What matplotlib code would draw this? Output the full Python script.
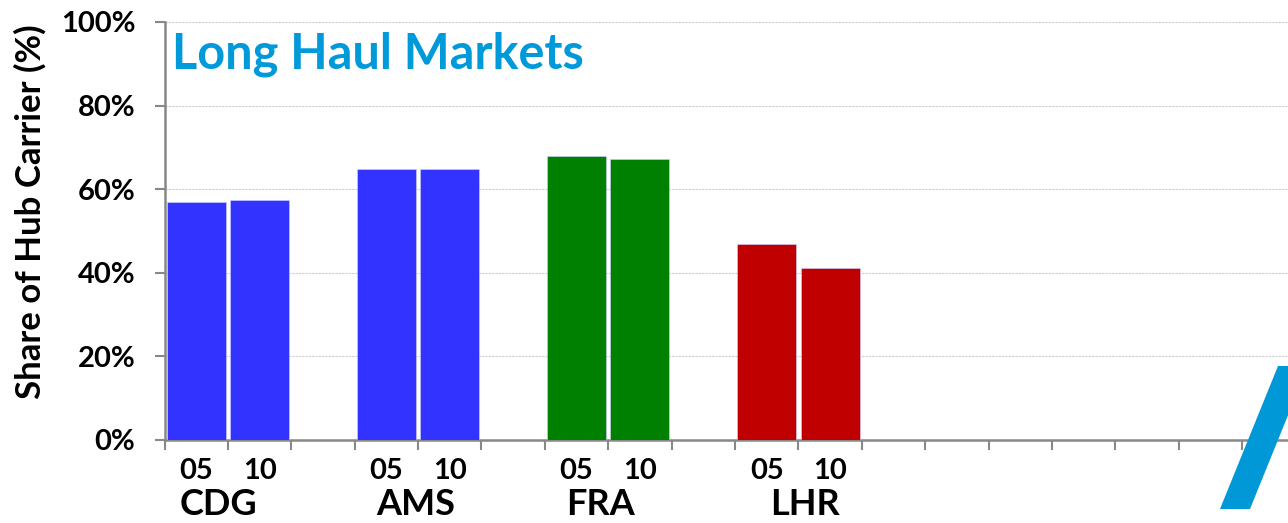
import numpy as np
import matplotlib as mlp
mlp.use("Agg")
import matplotlib.pyplot as plt
from matplotlib.patches import Polygon

# data
airports = ["CDG", "AMS", "FRA", "LHR"]
years = ["05", "10"]
share_05 = [56.9, 64.8, 67.9, 46.9]
share_10 = [57.3, 64.8, 67.2, 41.1]
colors = ["#3333FF", "#3333FF", "#008000", "#C00000"]
yticks = [0, 20, 40, 60, 80, 100]
n_slots = 18

plt.rcParams['font.family'] = ['Lato', 'DejaVu Sans']
plt.rcParams['font.weight'] = 'bold'

W, H = 1288, 523
fig = plt.figure(figsize=(W / 100, H / 100), dpi=100)
ax = fig.add_axes([164.5 / W, (H - 440) / H, 1141 / W, 418 / H])

grey = "#888888"
# the category names sit a little off the group centre in the original
name_shift = [-0.15, -0.03, -0.12, 0.1]
pos = []
labs = []
for i, name in enumerate(airports):
	x0 = 3 * i
	ax.bar(x0, share_05[i], width=0.93, color=colors[i], edgecolor="#d0d0ff", linewidth=0.4, zorder=3)
	ax.bar(x0 + 1, share_10[i], width=0.93, color=colors[i], edgecolor="#d0d0ff", linewidth=0.4, zorder=3)
	pos += [x0, x0 + 1]
	labs += years
	ax.text(x0 + 0.5 + name_shift[i], -0.155, name, transform=ax.get_xaxis_transform(),
		ha="center", va="center", fontsize=26, fontweight="bold", color="black")

ax.set_xlim(-0.5, n_slots - 0.5)
ax.set_ylim(0, 100)
ax.set_xticks(pos)
ax.set_xticklabels(labs, fontweight="bold")
ax.set_xticks(np.arange(-0.5, n_slots, 1), minor=True)
ax.tick_params(axis="x", which="major", length=0, pad=13, labelsize=21)
ax.tick_params(axis="x", which="minor", length=7, width=1.5, color=grey, direction="out")

ax.set_yticks(yticks)
ax.set_yticklabels([str(v) + "%" for v in yticks], fontweight="bold")
ax.tick_params(axis="y", length=7, width=1.5, color=grey, pad=14, labelsize=21)
ax.yaxis.grid(True, linestyle=(0, (2, 1)), color="#cccccc", linewidth=0.8, zorder=0)
ax.set_axisbelow(True)

for s in ["top", "right"]:
	ax.spines[s].set_visible(False)
for s in ["left", "bottom"]:
	ax.spines[s].set_color(grey)
	ax.spines[s].set_linewidth(1.8)

fig.text(30 / W, 1 - 212 / H, "Share of Hub Carrier (%)", rotation=90, ha="center", va="center",
	fontsize=25, fontweight="bold")
fig.text(172 / W, 1 - 54 / H, "Long Haul Markets", ha="left", va="center",
	fontsize=35, fontweight="bold", color="#0099DA")

# decorative logo slash at the lower right corner
pts = [(1220, 509), (1250, 509), (1308, 366), (1278, 366)]
fig.patches.append(Polygon([(x / W, 1 - y / H) for x, y in pts], closed=True,
	transform=fig.transFigure, facecolor="#0098D6", edgecolor="none", figure=fig))

plt.savefig("out.png", dpi=100)
